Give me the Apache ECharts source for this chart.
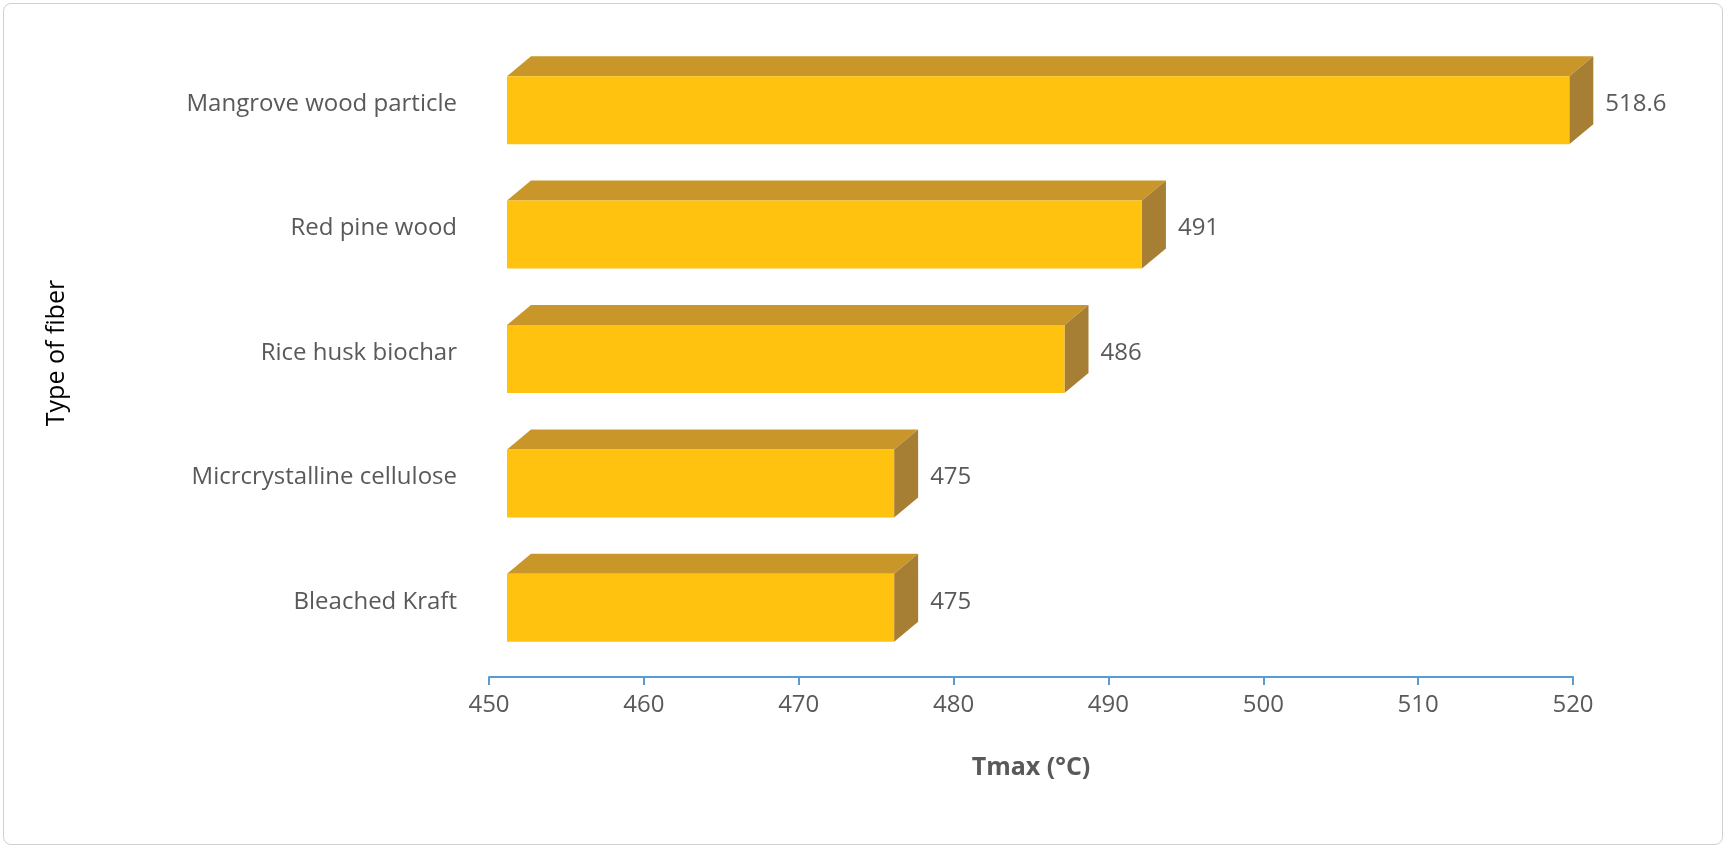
<!DOCTYPE html>
<html><head><meta charset="utf-8">
<script src="https://cdn.jsdelivr.net/npm/echarts@6/dist/echarts.min.js"></script>
<style>html,body{margin:0;padding:0;background:#fff}#c{width:1726px;height:848px}
#b{position:absolute;left:3px;top:3px;width:1718px;height:840px;border:1.5px solid #d0d0d0;border-radius:8px;pointer-events:none}</style>
</head><body><div id="c"></div><div id="b"></div>
<script>
const categories = ['Bleached Kraft','Micrcrystalline cellulose','Rice husk biochar','Red pine wood','Mangrove wood particle'];
const values = [475, 475, 486, 491, 518.6];
const labels = ['475','475','486','491','518.6'];
const chart = echarts.init(document.getElementById('c'));
const SH = 18, DX = 24, DY = 20, H = 68;
chart.setOption({
  animation:false,
  grid:{left:489,right:153,top:42,height:622},
  xAxis:{type:'value',min:450,max:520,interval:10,offset:13,
    name:'Tmax (°C)',nameLocation:'middle',nameGap:78,
    nameTextStyle:{fontSize:25,fontWeight:'bold',color:'#595959',fontFamily:'Open Sans'},
    axisLine:{show:true,lineStyle:{color:'#5B9BD5',width:2}},
    axisTick:{show:true,inside:false,length:8,lineStyle:{color:'#5B9BD5',width:2}},
    axisLabel:{fontSize:24,color:'#595959',margin:16,fontFamily:'Open Sans'},
    splitLine:{show:false}},
  yAxis:{type:'category',data:categories,
    name:'Type of fiber',nameLocation:'middle',nameGap:420,nameRotate:90,
    nameTextStyle:{fontSize:25,color:'#000',fontFamily:'Open Sans'},
    axisLine:{show:false},axisTick:{show:false},
    axisLabel:{fontSize:24,color:'#595959',margin:32,fontFamily:'Open Sans'}},
  series:[{type:'custom',data:values.map((v,i)=>[v,i]),
    renderItem:function(params,api){
      const p0 = api.coord([450, api.value(1)]);
      const p1 = api.coord([api.value(0), api.value(1)]);
      const x0 = p0[0]+SH, x1 = p1[0]+SH, yt = p1[1]-H/2+6, yb = yt+H;
      return {type:'group',children:[
        {type:'polygon',shape:{points:[[x0,yt],[x0+DX,yt-DY],[x1+DX,yt-DY],[x1,yt]]},style:{fill:'#C9962A'}},
        {type:'polygon',shape:{points:[[x1,yt],[x1+DX,yt-DY],[x1+DX,yb-DY],[x1,yb]]},style:{fill:'#A67F34'}},
        {type:'rect',shape:{x:x0,y:yt,width:x1-x0,height:H},style:{fill:'#FFC20E'}},
        {type:'text',style:{x:x1+DX+12,y:yt+H/2-DY/2+4,text:labels[params.dataIndex],fontSize:24,fill:'#595959',fontFamily:'Open Sans',textVerticalAlign:'middle'}}
      ]};
    }}]
});
</script></body></html>
